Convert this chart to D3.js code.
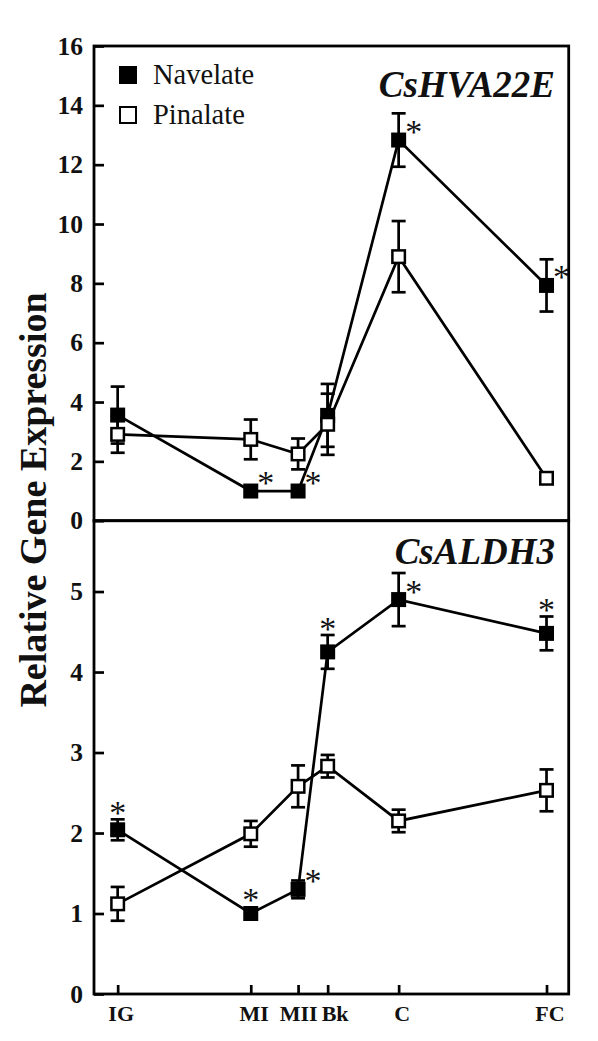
<!DOCTYPE html>
<html>
<head>
<meta charset="utf-8">
<script src="https://cdn.jsdelivr.net/npm/d3@7"></script>
<style>
  html, body { margin: 0; padding: 0; background: #fff; }
  svg { display: block; }
</style>
</head>
<body>
<svg id="chart" width="598" height="1041"></svg>
<script>
// developmental stages and their spacing along the x axis
const stages   = ["IG", "MI", "MII", "Bk", "C", "FC"];
const stagePos = [0, 9, 12.2, 14.2, 19, 29];

// CsHVA22E (top panel)
const hvaNavelate    = [3.56, 1.0, 1.0, 3.55, 12.83, 7.93];
const hvaNavelateErr = [0.96, 0, 0, 1.06, 0.9, 0.88];
const hvaPinalate    = [2.91, 2.74, 2.25, 3.25, 8.9, 1.43];
const hvaPinalateErr = [0.62, 0.67, 0.52, 1.03, 1.2, 0];
const hvaStars       = [null, "right", "right", null, "right", "right"];
const hvaTicks       = [0, 2, 4, 6, 8, 10, 12, 14, 16];

// CsALDH3 (bottom panel)
const aldNavelate    = [2.04, 1.0, 1.30, 4.25, 4.90, 4.48];
const aldNavelateErr = [0.13, 0, 0.11, 0.21, 0.33, 0.21];
const aldPinalate    = [1.12, 1.99, 2.58, 2.83, 2.15, 2.53];
const aldPinalateErr = [0.21, 0.16, 0.26, 0.14, 0.14, 0.26];
const aldStars       = ["top", "top", "right", "top", "right", "top"];
const aldTicks       = [0, 1, 2, 3, 4, 5];

const serif = "'Liberation Serif', 'Times New Roman', serif";

const svg = d3.select("#chart");
svg.append("rect").attr("width", 598).attr("height", 1041).attr("fill", "#fff");

const plotL = 94, plotR = 568.7, plotT = 46, plotMid = 520.7, plotB = 994;

const x = d3.scaleLinear().domain([-1.6, 30.5]).range([plotL, plotR]);

const panels = [
    { gene: "CsHVA22E", nav: hvaNavelate, navErr: hvaNavelateErr, pin: hvaPinalate, pinErr: hvaPinalateErr,
      stars: hvaStars, ticks: hvaTicks, y: d3.scaleLinear().domain([0, 16]).range([plotMid, plotT]), y0: plotT, y1: plotMid },
    { gene: "CsALDH3", nav: aldNavelate, navErr: aldNavelateErr, pin: aldPinalate, pinErr: aldPinalateErr,
      stars: aldStars, ticks: aldTicks, y: d3.scaleLinear().domain([0, 5.88]).range([plotB, plotMid]), y0: plotMid, y1: plotB }
];

const markerSize = 15, capW = 14, lw = 2.7;

panels.forEach((p, pi) => {
    const g = svg.append("g");
    const y = p.y;

    // y axis with inward ticks
    g.append("g").attr("transform", `translate(${plotL},0)`)
        .call(d3.axisLeft(y).tickValues(p.ticks).tickSize(-10).tickPadding(11).tickFormat(d3.format("d")))
        .call(a => a.select(".domain").remove())
        .call(a => a.selectAll("line").attr("stroke", "#000").attr("stroke-width", lw))
        .call(a => a.selectAll("text").attr("fill", "#111").attr("font-family", serif)
            .attr("font-weight", "bold").attr("font-size", 25.5));

    if (pi === 1) {
        g.append("g").attr("transform", `translate(0,${plotB})`)
            .call(d3.axisBottom(x).tickValues(stagePos).tickSize(-9).tickPadding(11)
                .tickFormat((d, i) => stages[i]))
            .call(a => a.select(".domain").remove())
            .call(a => a.selectAll("line").attr("stroke", "#000").attr("stroke-width", lw))
            .call(a => a.selectAll("text").attr("fill", "#111").attr("font-family", serif)
                .attr("font-weight", "bold").attr("font-size", 22)
                .attr("dx", (d, i) => stages[i] === "Bk" ? 7 : stages[i] === "MII" ? 0 : 3));
    }

    const line = d3.line().x((d, i) => x(stagePos[i])).y(d => y(d));
    [p.nav, p.pin].forEach(vals => {
        g.append("path").datum(vals)
            .attr("fill", "none").attr("stroke", "#000").attr("stroke-width", lw)
            .attr("d", line);
    });

    // error bars
    [[p.nav, p.navErr], [p.pin, p.pinErr]].forEach(([vals, errs]) => {
        vals.forEach((v, i) => {
            if (!errs[i]) return;
            const cx = x(stagePos[i]);
            const yt = y(v + errs[i]), yb = y(v - errs[i]);
            g.append("line").attr("x1", cx).attr("x2", cx).attr("y1", yt).attr("y2", yb)
                .attr("stroke", "#000").attr("stroke-width", lw);
            [yt, yb].forEach(yy => g.append("line")
                .attr("x1", cx - capW / 2).attr("x2", cx + capW / 2).attr("y1", yy).attr("y2", yy)
                .attr("stroke", "#000").attr("stroke-width", lw));
        });
    });

    // markers: Navelate filled, Pinalate open
    g.selectAll(null).data(p.nav).enter().append("rect")
        .attr("x", (d, i) => x(stagePos[i]) - markerSize / 2).attr("y", d => y(d) - markerSize / 2)
        .attr("width", markerSize).attr("height", markerSize)
        .attr("fill", "#000");
    g.selectAll(null).data(p.pin).enter().append("rect")
        .attr("x", (d, i) => x(stagePos[i]) - markerSize / 2 + 1.25).attr("y", d => y(d) - markerSize / 2 + 1.25)
        .attr("width", markerSize - 2.5).attr("height", markerSize - 2.5)
        .attr("fill", "#fff").attr("stroke", "#000").attr("stroke-width", 2.5);

    // significance asterisks
    p.stars.forEach((s, i) => {
        if (!s) return;
        const cx = x(stagePos[i]);
        let sx, sy;
        if (s === "right") { sx = cx + 15; sy = y(p.nav[i]) - 14; }
        else { sx = cx; sy = Math.min(y(p.nav[i] + p.navErr[i]) - 12, y(p.nav[i]) - 20); }
        g.append("text").attr("x", sx).attr("y", sy + 17)
            .attr("text-anchor", "middle").attr("font-family", serif).attr("font-size", 34)
            .attr("fill", "#111").text("*");
    });

    // gene name
    g.append("text").attr("x", 555).attr("y", pi === 0 ? 97 : 564)
        .attr("text-anchor", "end").attr("font-family", serif)
        .attr("font-weight", "bold").attr("font-style", "italic").attr("font-size", 37)
        .attr("fill", "#111").text(p.gene);

    // panel frame
    g.append("rect").attr("x", plotL).attr("y", p.y0)
        .attr("width", plotR - plotL).attr("height", p.y1 - p.y0)
        .attr("fill", "none").attr("stroke", "#000").attr("stroke-width", 2.8);
});

// legend
const leg = svg.append("g").attr("transform", "translate(119,66)");
[{ label: "Navelate", fill: "#000" }, { label: "Pinalate", fill: "#fff" }].forEach((item, i) => {
    const lg = leg.append("g").attr("transform", `translate(0,${i * 40})`);
    lg.append("rect").attr("x", 1).attr("y", 1).attr("width", 16).attr("height", 16)
        .attr("fill", item.fill).attr("stroke", "#000").attr("stroke-width", 2);
    lg.append("text").attr("x", 34).attr("y", 17.5)
        .attr("font-family", serif).attr("font-size", 28.5).attr("fill", "#111").text(item.label);
});

// y axis title
svg.append("text")
    .attr("transform", "translate(46,500) rotate(-90)")
    .attr("text-anchor", "middle").attr("font-family", serif)
    .attr("font-weight", "bold").attr("font-size", 38).attr("fill", "#111")
    .text("Relative Gene Expression");
</script>
</body>
</html>
